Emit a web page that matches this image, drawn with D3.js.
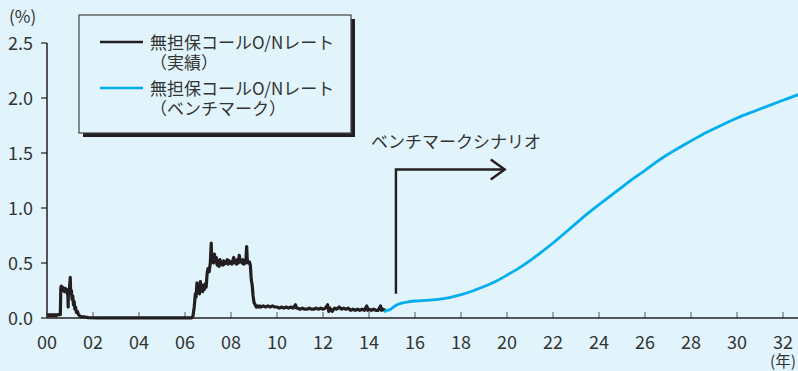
<!DOCTYPE html>
<html>
<head>
<meta charset="utf-8">
<script src="https://cdn.jsdelivr.net/npm/d3@7"></script>
<style>
  html, body { margin: 0; padding: 0; background: #e1f3fb; }
  svg { display: block; }
  text { font-family: "Noto Sans CJK JP", "Noto Sans", sans-serif; fill: #333; }
</style>
</head>
<body>
<svg id="chart" width="798" height="371"></svg>
<script>
// Uncollateralized overnight call rate: years since 2000, percent
const actualRate = [
  [0.00,0.02],[0.05,0.03],[0.10,0.02],[0.15,0.03],[0.20,0.02],[0.25,0.03],[0.30,0.02],[0.35,0.03],
  [0.40,0.02],[0.45,0.03],[0.50,0.03],[0.58,0.03],[0.60,0.27],[0.62,0.29],[0.65,0.26],[0.68,0.28],
  [0.70,0.25],[0.73,0.27],[0.76,0.24],[0.79,0.27],[0.82,0.25],[0.85,0.26],[0.88,0.22],[0.90,0.25],
  [0.92,0.10],[0.93,0.25],[0.96,0.23],[0.99,0.30],[1.01,0.37],[1.03,0.22],[1.06,0.25],[1.09,0.17],
  [1.12,0.20],[1.15,0.12],[1.18,0.15],[1.21,0.08],[1.24,0.10],[1.28,0.05],[1.32,0.06],[1.37,0.03],
  [1.42,0.02],[1.50,0.01],[1.60,0.01],[1.80,0.003],[2.20,0.002],[3.00,0.001],[4.00,0.001],
  [5.00,0.001],[6.00,0.001],[6.30,0.002],[6.35,0.02],[6.40,0.10],[6.45,0.22],[6.48,0.19],
  [6.52,0.32],[6.55,0.24],[6.60,0.27],[6.63,0.22],[6.67,0.33],[6.70,0.25],[6.73,0.28],[6.77,0.24],
  [6.80,0.30],[6.84,0.26],[6.88,0.31],[6.92,0.28],[6.96,0.40],[7.00,0.45],[7.05,0.42],[7.10,0.50],
  [7.14,0.68],[7.16,0.52],[7.20,0.56],[7.24,0.50],[7.28,0.58],[7.32,0.51],[7.36,0.55],[7.40,0.48],
  [7.44,0.52],[7.48,0.47],[7.52,0.53],[7.56,0.49],[7.60,0.51],[7.64,0.48],[7.68,0.52],[7.72,0.49],
  [7.76,0.51],[7.80,0.50],[7.84,0.53],[7.88,0.49],[7.92,0.52],[7.96,0.50],[8.00,0.51],[8.04,0.49],
  [8.08,0.52],[8.12,0.55],[8.16,0.50],[8.20,0.52],[8.24,0.49],[8.28,0.53],[8.32,0.50],[8.36,0.57],
  [8.40,0.51],[8.44,0.52],[8.48,0.50],[8.52,0.53],[8.56,0.49],[8.60,0.52],[8.64,0.50],[8.68,0.65],
  [8.71,0.52],[8.75,0.50],[8.80,0.51],[8.84,0.48],[8.88,0.35],[8.92,0.30],[8.96,0.20],[9.00,0.14],
  [9.05,0.12],[9.10,0.10],[9.15,0.11],[9.20,0.10],[9.25,0.11],[9.30,0.10],[9.40,0.11],[9.50,0.10],
  [9.60,0.11],[9.70,0.10],[9.80,0.11],[9.90,0.10],[10.00,0.10],[10.10,0.09],[10.20,0.10],
  [10.30,0.09],[10.40,0.10],[10.50,0.09],[10.60,0.10],[10.70,0.09],[10.80,0.12],[10.85,0.09],
  [10.90,0.09],[11.00,0.08],[11.10,0.09],[11.20,0.08],[11.30,0.08],[11.40,0.09],[11.50,0.08],
  [11.60,0.08],[11.70,0.09],[11.80,0.08],[11.90,0.09],[12.00,0.08],[12.10,0.09],[12.20,0.12],
  [12.25,0.06],[12.30,0.09],[12.40,0.06],[12.50,0.09],[12.60,0.08],[12.70,0.10],[12.80,0.08],
  [12.90,0.09],[13.00,0.08],[13.10,0.09],[13.20,0.07],[13.30,0.08],[13.40,0.07],[13.50,0.08],
  [13.60,0.07],[13.70,0.08],[13.80,0.07],[13.90,0.11],[13.95,0.07],[14.00,0.08],[14.10,0.07],
  [14.20,0.08],[14.30,0.07],[14.40,0.07],[14.50,0.11],[14.55,0.07],[14.60,0.08],[14.70,0.07]
];

// Benchmark scenario path for the same rate
const benchmarkRate = [
  [14.70,0.06],[14.80,0.075],[14.90,0.07],[15.00,0.09],[15.20,0.12],[15.40,0.135],[15.70,0.148],
  [16.00,0.155],[16.50,0.16],[17.00,0.168],[17.50,0.185],[18.00,0.21],[18.50,0.245],[19.00,0.285],
  [19.50,0.33],[20.00,0.39],[20.50,0.45],[21.00,0.52],[21.50,0.60],[22.00,0.68],[22.50,0.77],
  [23.00,0.86],[23.50,0.95],[24.00,1.03],[24.50,1.11],[25.00,1.19],[25.50,1.27],[26.00,1.34],
  [26.50,1.42],[27.00,1.49],[27.50,1.55],[28.00,1.61],[28.50,1.67],[29.00,1.72],[29.50,1.77],
  [30.00,1.82],[30.50,1.86],[31.00,1.90],[31.50,1.94],[32.00,1.98],[32.65,2.03]
];

const xTicks = d3.range(0, 33, 2);
const xTickLabels = xTicks.map(v => String(v).padStart(2, "0"));
const yTicks = [0, 0.5, 1.0, 1.5, 2.0, 2.5];
const yTickLabels = yTicks.map(v => v.toFixed(1));

const legendLabels = [
  ["無担保コールO/Nレート", "（実績）"],
  ["無担保コールO/Nレート", "（ベンチマーク）"]
];
const scenarioLabel = "ベンチマークシナリオ";
// Arrow marking the start of the scenario: [year, rate] corners
const scenarioArrow = [[15.17, 0.22], [15.17, 1.35], [19.9, 1.35]];

const colors = { actual: "#231f20", bench: "#00aeef", axis: "#231f20", tick: "#8a8a8a" };

const svg = d3.select("#chart");
const x = d3.scaleLinear().domain([0, 32.65]).range([47, 798]);
const y = d3.scaleLinear().domain([0, 2.5]).range([318, 43]);

// y axis
svg.append("line")
  .attr("x1", x(0)).attr("x2", x(0)).attr("y1", y(2.5)).attr("y2", y(0))
  .attr("stroke", colors.axis).attr("stroke-width", 1.5);
svg.selectAll(".ytick").data(yTicks).join("line")
  .attr("x1", x(0) - 6).attr("x2", x(0))
  .attr("y1", d => y(d)).attr("y2", d => y(d))
  .attr("stroke", colors.axis).attr("stroke-width", 1.2);
svg.selectAll(".ylab").data(yTicks).join("text")
  .attr("x", 33).attr("y", d => y(d) + 6.5)
  .attr("text-anchor", "end").attr("font-size", 18)
  .text((d, i) => yTickLabels[i]);
svg.append("text").attr("x", 9).attr("y", 23).attr("font-size", 17).text("(%)");

// x axis
svg.selectAll(".xtick").data(xTicks.slice(1)).join("line")
  .attr("x1", d => x(d)).attr("x2", d => x(d))
  .attr("y1", y(0)).attr("y2", y(0) - 6)
  .attr("stroke", colors.tick).attr("stroke-width", 1.5);
svg.selectAll(".xlab").data(xTicks).join("text")
  .attr("x", d => x(d)).attr("y", 349)
  .attr("text-anchor", "middle").attr("font-size", 18)
  .text((d, i) => xTickLabels[i]);
svg.append("text").attr("x", 796).attr("y", 367).attr("text-anchor", "end")
  .attr("font-size", 15.5).text("(年)");

// series
const line = d3.line().x(d => x(d[0])).y(d => y(d[1]));
svg.append("path").datum(actualRate).attr("d", line)
  .attr("fill", "none").attr("stroke", colors.actual).attr("stroke-width", 3.2)
  .attr("stroke-linejoin", "round");
svg.append("path").datum(benchmarkRate).attr("d", d3.line().x(d => x(d[0])).y(d => y(d[1])).curve(d3.curveBasis))
  .attr("fill", "none").attr("stroke", colors.bench).attr("stroke-width", 2.8)
  .attr("stroke-linejoin", "round").attr("stroke-linecap", "round");

svg.append("line")
  .attr("x1", x(0)).attr("x2", x(32.65)).attr("y1", y(0)).attr("y2", y(0))
  .attr("stroke", colors.axis).attr("stroke-width", 1.5);

// scenario arrow and label
svg.append("path").datum(scenarioArrow).attr("d", line)
  .attr("fill", "none").attr("stroke", colors.actual).attr("stroke-width", 2.4);
const tip = scenarioArrow[2];
svg.append("path")
  .attr("d", `M${x(tip[0]) - 14},${y(tip[1]) - 10}L${x(tip[0])},${y(tip[1])}L${x(tip[0]) - 14},${y(tip[1]) + 10}`)
  .attr("fill", "none").attr("stroke", colors.actual).attr("stroke-width", 2.4);
svg.append("text").attr("x", 371).attr("y", 148).attr("font-size", 17).text(scenarioLabel);

// legend
const lg = svg.append("g").attr("transform", "translate(79,15)");
lg.append("rect").attr("x", 4).attr("y", 4).attr("width", 272).attr("height", 118).attr("fill", "#231f20");
lg.append("rect").attr("x", 0).attr("y", 0).attr("width", 272).attr("height", 118)
  .attr("fill", "#e1f3fb").attr("stroke", "#444").attr("stroke-width", 1.2);
const legendColors = [colors.actual, colors.bench];
legendLabels.forEach((lab, i) => {
  const oy = i * 46;
  lg.append("line").attr("x1", 21).attr("x2", 64).attr("y1", 27 + oy).attr("y2", 27 + oy)
    .attr("stroke", legendColors[i]).attr("stroke-width", 2.4);
  lg.append("text").attr("x", 71).attr("y", 33.5 + oy).attr("font-size", 17).text(lab[0]);
  lg.append("text").attr("x", 71).attr("y", 53.5 + oy).attr("font-size", 17).text(lab[1]);
});
</script>
</body>
</html>
